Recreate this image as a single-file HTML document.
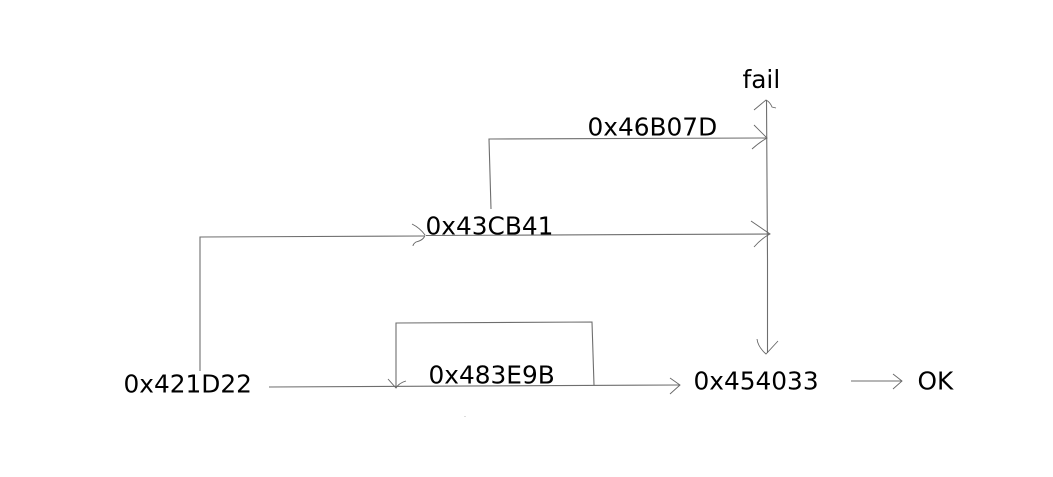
<!DOCTYPE html>
<html>
<head>
<meta charset="utf-8">
<style>
html,body{margin:0;padding:0;background:#fff;}
svg{display:block;}
text{font-family:"DejaVu Sans",sans-serif;font-size:24.8px;fill:#000;}
.l{fill:none;stroke:#6e6e6e;stroke-width:1.1;}
.h{fill:none;stroke:#666;stroke-width:0.9;}
</style>
</head>
<body>
<svg width="1053" height="477" viewBox="0 0 1053 477" xmlns="http://www.w3.org/2000/svg">
<rect width="1053" height="477" fill="#fff"/>
<!-- vertical fail line -->
<path class="l" d="M766.500 100 L767.500 260 L767.500 353"/>
<path class="h" d="M754 110 L766 100 Q770 102 772 107 L776 108"/>
<path class="h" d="M757 339 Q758 347 766 354 L778 341"/>
<!-- 0x46B07D branch -->
<path class="l" d="M491 209 L489 139 L766 138"/>
<path class="h" d="M754 125 L767 138 Q760 142 752 149"/>
<!-- middle line -->
<path class="l" d="M426 235.500 L769 234"/>
<path class="h" d="M751 221 L770 234 Q762 238 754 247"/>
<!-- 0x421D22 up and over -->
<path class="l" d="M200 371 L200 237 L424 236"/>
<path class="h" d="M412 224 Q420 228 425 235 Q424 240 416 242 Q413 244 413 246"/>
<!-- bottom line -->
<path class="l" d="M269 387 L680 385"/>
<path class="h" d="M670 378 L680 385 L670 394"/>
<!-- loop -->
<path class="l" d="M594 385 L592 322 L396 323 L396 388"/>
<path class="h" d="M388 379 L396 388 Q399 383 406 381"/>
<!-- OK arrow -->
<path class="l" d="M851 381 L902 381"/>
<path class="h" d="M893 374 L902 381 L893 389"/>
<!-- speck -->
<rect x="464.500" y="416" width="1" height="1" fill="#bbb"/>
<text x="742.500" y="88">fail</text>
<text x="587.500" y="135.500">0x46B07D</text>
<text x="425.500" y="234.500">0x43CB41</text>
<text x="428.500" y="383.500">0x483E9B</text>
<text x="123.500" y="392.500">0x421D22</text>
<text x="693.500" y="389.500">0x454033</text>
<text x="917.500" y="389.500">OK</text>
</svg>
</body>
</html>
